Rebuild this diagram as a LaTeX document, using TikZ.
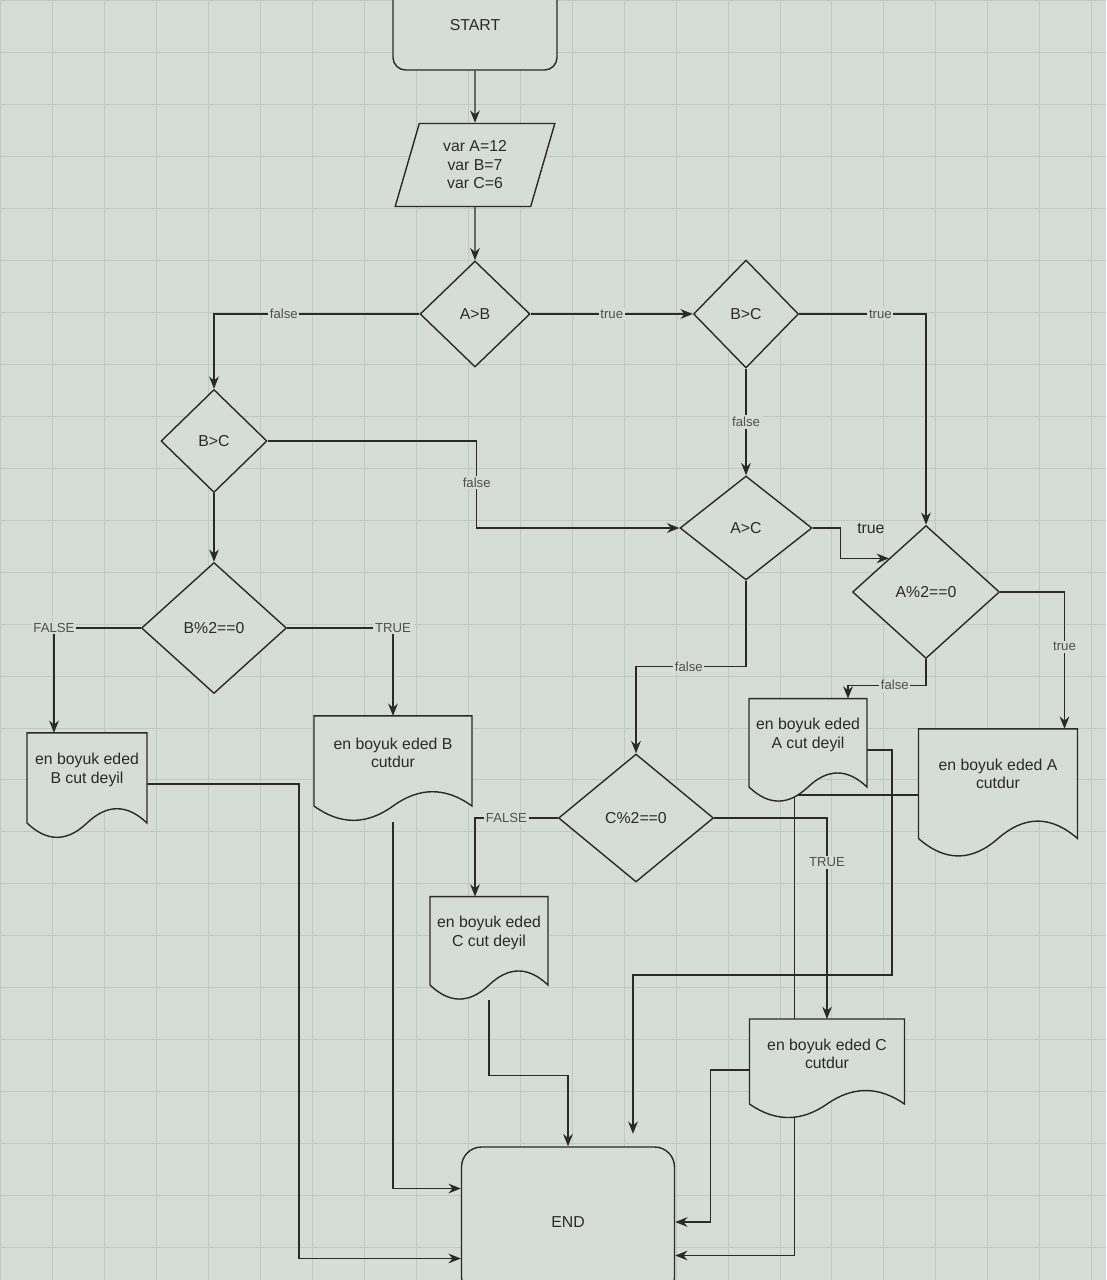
\documentclass[tikz,border=0pt]{standalone}
\usepackage{fontspec}
\setmainfont{Liberation Sans}
\usetikzlibrary{arrows.meta,calc,shapes.geometric}
\definecolor{paper}{RGB}{214,221,217}
\definecolor{ink}{RGB}{42,42,42}
\definecolor{gridc}{RGB}{192,200,196}
\definecolor{lbltext}{RGB}{80,80,80}
\pgfdeclarelayer{grid}
\pgfdeclarelayer{wires}
\pgfdeclarelayer{sheets}
\pgfsetlayers{grid,wires,sheets,main}
\tikzset{%
	startstop/.style 2 args = {draw=ink, fill=paper, rectangle, line width=0.8pt, text=ink, minimum width=#1*0.02cm, minimum height=#2*0.02cm},
	inout/.style    = {draw=ink, fill=paper, trapezium, trapezium left angle=74, trapezium right angle=106, trapezium stretches=true, minimum width=160*0.02cm, minimum height=83*0.02cm, inner sep=0pt, align=center, line width=0.8pt, text=ink},
	decision/.style 2 args = {draw=ink, fill=paper, diamond, inner sep=0pt, line width=0.8pt, text=ink, minimum width=#1*0.02cm, minimum height=#2*0.02cm},
	docbox/.style 2 args = {rectangle, draw=none, inner sep=0pt, outer sep=0pt, align=center, text=ink, minimum width=#1*0.02cm, minimum height=#2*0.014cm},
	sheetline/.style = {draw=ink, fill=paper, line width=0.8pt},
	arrow/.style    = {draw=ink, line width=0.8pt, -{Stealth[length=7pt,width=5.5pt]}},
	lbl/.style      = {font=\fontsize{7.5}{8}\selectfont, fill=paper, inner sep=1pt, text=lbltext},
}
\newcommand{\docsheet}[1]{%
	\begin{pgfonlayer}{sheets}
	\draw[sheetline] let \p1=(#1.north west), \p2=(#1.south east), \n1={\x2-\x1}, \n2={(\y2-\y1)/0.7} in
		(\p1) -- (\x2,\y1) -- (\x2,\y1+0.85*\n2)
		.. controls (\x1+0.8333*\n1,\y1+0.67*\n2) and (\x1+0.6667*\n1,\y1+0.67*\n2) .. (\x1+0.5*\n1,\y1+0.85*\n2)
		.. controls (\x1+0.3333*\n1,\y1+1.03*\n2) and (\x1+0.1667*\n1,\y1+1.03*\n2) .. (\x1,\y1+0.85*\n2) -- cycle;
	\end{pgfonlayer}}
\begin{document}
\begin{tikzpicture}[x=0.02cm,y=-0.02cm,font=\fontsize{9}{10.5}\selectfont]
	\path[use as bounding box] (0,0) rectangle (1106,1280);
	\clip (0,0) rectangle (1106,1280);
	\begin{pgfonlayer}{grid}
		\fill[paper] (0,0) rectangle (1106,1280);
		\draw[gridc,line width=0.4pt] (0,0) grid[step=1.04cm] (1106,1280);
	\end{pgfonlayer}

	\node[startstop={164}{90},rounded corners=0.25cm] (start) at (475,25) {START};
	\node[inout] (input) at (475,165) {var A=12\\var B=7\\var C=6};
	\node[decision={110}{106}] (AgtB) at (475,314) {A>B};
	\node[decision={106}{103}] (BgtCl) at (214,441) {B>C};
	\node[decision={105}{108}] (BgtCr) at (746,314) {B>C};
	\node[decision={132}{104}] (AgtC) at (746,528) {A>C};
	\node[decision={147}{133}] (Aeven) at (926,592) {A\%2==0};
	\node[decision={145}{131}] (Beven) at (214,628) {B\%2==0};
	\node[decision={155}{128}] (Ceven) at (636,818) {C\%2==0};
	\node[docbox={120}{106}] (docBno) at (87,770) {en boyuk eded\\B cut deyil};
	\node[docbox={158}{106}] (docByes) at (393,753) {en boyuk eded B\\cutdur};
	\node[docbox={118}{104}] (docCno) at (489,933) {en boyuk eded\\C cut deyil};
	\node[docbox={118}{104}] (docAno) at (808,735) {en boyuk eded\\A cut deyil};
	\node[docbox={159}{129}] (docAyes) at (998,774) {en boyuk eded A\\cutdur};
	\node[docbox={155}{100}] (docCyes) at (827,1054) {en boyuk eded C\\cutdur};
	\node[startstop={213}{150},rounded corners=0.4cm] (finish) at (568,1222) {END};
	\docsheet{docBno}
	\docsheet{docByes}
	\docsheet{docCno}
	\docsheet{docAno}
	\docsheet{docAyes}
	\docsheet{docCyes}

	\begin{pgfonlayer}{wires}
		\draw[arrow] (start) -- (input);
		\draw[arrow] (input) -- (AgtB);
		\draw[arrow] (AgtB.west) -| node[lbl,pos=0.33] {false} (BgtCl.north);
		\draw[arrow] (AgtB.east) -- node[lbl] {true} (BgtCr.west);
		\draw[arrow] (BgtCr.east) -| node[lbl,pos=0.32] {true} (Aeven.north);
		\draw[arrow] (BgtCr.south) -- node[lbl] {false} (AgtC.north);
		\draw[arrow] (BgtCl.east) -- ++(209,0) |- node[lbl,pos=0.24] {false} (AgtC.west);
		\draw[arrow] (BgtCl.south) -- (Beven.north);
		\draw[arrow] (AgtC.east) -- ++(28,0) node[anchor=west,xshift=0.2cm,text=ink] {true} |- (Aeven.north west);
		\draw[arrow] (Aeven.east) -| node[lbl,pos=0.7] {true} ([xshift=-0.26cm]docAyes.north east);
		\draw[arrow] (Aeven.south) -- ++(0,26) -| node[lbl,pos=0.2] {false} ([xshift=-0.38cm]docAno.north east);
		\draw[arrow] (AgtC.south) -- ++(0,86) -| node[lbl,pos=0.26] {false} (Ceven.north);
		\draw[arrow] (Ceven.west) -| node[lbl,pos=0.31] {FALSE} ([xshift=-0.28cm]docCno.north);
		\draw[arrow] (Ceven.east) -| node[lbl,pos=0.61] {TRUE} (docCyes.north);
		\draw[arrow] (Beven.west) -| node[lbl] {FALSE} ([xshift=0.54cm]docBno.north west);
		\draw[arrow] (Beven.east) -| node[lbl] {TRUE} (docByes.north);
		\draw[arrow] ([yshift=-0.28cm]docBno.east) -- ++(152,0) |- ([yshift=-0.73cm]finish.west);
		\draw[arrow] ([yshift=-0.64cm]docByes.south) |- ([yshift=0.67cm]finish.west);
		\draw[arrow] ([yshift=-0.62cm]docCno.south) -- ++(0,75) -| (finish.north);
		\draw[arrow,shorten >=0.25cm] ([yshift=-0.3cm]docAno.east) -- ++(25,0) -- ++(0,225) -| ([xshift=1.3cm]finish.north);
		\draw[arrow] ([yshift=-0.42cm]docAyes.west) -- ++(-124,0) |- ([yshift=-0.67cm]finish.east);
		\draw[arrow] ([yshift=-0.32cm]docCyes.west) -- ++(-39,0) |- (finish.east);
	\end{pgfonlayer}
\end{tikzpicture}
\end{document}
